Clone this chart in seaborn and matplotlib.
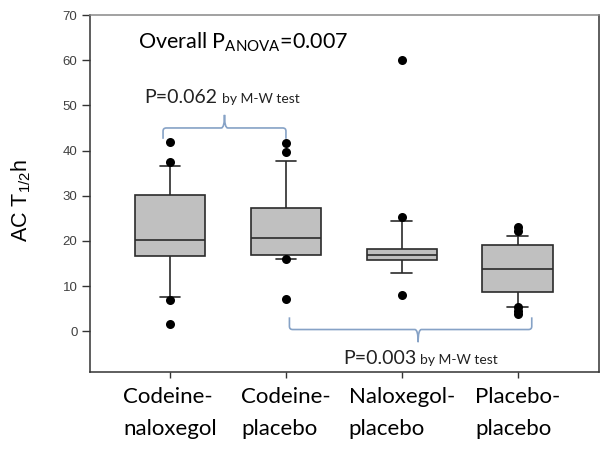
import numpy as np
import pandas as pd
import matplotlib
matplotlib.use("Agg")
import matplotlib.pyplot as plt
from matplotlib.path import Path
from matplotlib.patches import PathPatch
import seaborn as sns

# ---- data ----
categories = ["Codeine-\nnaloxegol", "Codeine-\nplacebo", "Naloxegol-\nplacebo", "Placebo-\nplacebo"]
whisker_low = [7.6, 15.9, 12.9, 5.4]
q1 = [16.6, 16.8, 15.7, 8.7]
median = [20.3, 20.6, 17.0, 13.7]
q3 = [30.2, 27.3, 18.3, 19.1]
whisker_high = [36.6, 37.7, 24.5, 21.2]
outliers = [
    [41.9, 37.4, 7.0, 1.7],
    [41.6, 39.6, 16.0, 7.2],
    [60.1, 25.2, 8.1],
    [23.0, 22.2, 5.3, 4.6, 3.8],
]
y_ticks = [0, 10, 20, 30, 40, 50, 60, 70]

# five-number table -> long form (with whis=(0,100) the quartiles are exact)
rows = []
for c, lo, a, m, b, hi in zip(categories, whisker_low, q1, median, q3, whisker_high):
    for v in (lo, a, m, b, hi):
        rows.append({"group": c, "value": v})
box_df = pd.DataFrame(rows)
out_df = pd.DataFrame([{"group": c, "value": v} for c, vals in zip(categories, outliers) for v in vals])

sns.set_theme(style="ticks")
plt.rcParams["font.family"] = ["Lato", "DejaVu Sans"]
plt.rcParams["mathtext.fontset"] = "custom"
plt.rcParams["mathtext.rm"] = "Lato"

fig = plt.figure(figsize=(6.04, 4.51), dpi=100)
ax = fig.add_axes([90 / 604, 1 - 372 / 451, (599 - 90) / 604, (372 - 15) / 451])

sns.boxplot(data=box_df, x="group", y="value", order=categories, whis=(0, 100),
            color="#c0c0c0", saturation=1, linecolor="#2b2b2b", linewidth=1.2,
            width=0.61, fliersize=0, capwidths=0.18, ax=ax)
sns.stripplot(data=out_df, x="group", y="value", order=categories, color="black",
              size=6.5, jitter=False, linewidth=0, ax=ax, zorder=5)

ax.set_xlim(-0.69, 3.70)
ax.set_ylim(-9, 70)
ax.set_yticks(y_ticks)
ax.set_yticklabels([str(t) for t in y_ticks], fontfamily="Liberation Sans", fontsize=9.5, color="#404040")
ax.tick_params(axis="y", length=6, width=1, color="#333333", pad=3)
ax.tick_params(axis="x", length=4, width=1, color="#333333", pad=7)
for lab in ax.get_xticklabels():
    lab.set_fontsize(16)
    lab.set_color("black")
    lab.set_linespacing(1.75)
    lab.set_multialignment("left")
    lab.set_fontfamily(["Lato", "DejaVu Sans"])
ax.set_xlabel("")
ax.set_ylabel(r"AC T$_{\mathregular{1/2}}$h", fontfamily="Liberation Sans", fontsize=15.5, color="black")
ax.yaxis.set_label_coords(-0.112, 0.48)
for s in ax.spines.values():
    s.set_visible(True)
    s.set_color("#333333")
    s.set_linewidth(1.1)
ax.spines["top"].set_color("#888888")

# ---- braces ----
brace_color = "#86a2c6"


def brace(x0, x1, y_end, y_h, xt, y_tip, rx=0.028, ry=0.7):
    sgn = np.sign(y_tip - y_h)
    verts = [
        (x0, y_end), (x0, y_h - sgn * ry), (x0, y_h), (x0 + rx, y_h),
        (xt - rx, y_h), (xt, y_h), (xt, y_tip),
        (xt, y_tip), (xt, y_h), (xt + rx, y_h),
        (x1 - rx, y_h), (x1, y_h), (x1, y_h - sgn * ry), (x1, y_end),
    ]
    codes = [
        Path.MOVETO, Path.LINETO, Path.CURVE3, Path.CURVE3,
        Path.LINETO, Path.CURVE3, Path.CURVE3,
        Path.MOVETO, Path.CURVE3, Path.CURVE3,
        Path.LINETO, Path.CURVE3, Path.CURVE3, Path.LINETO,
    ]
    ax.add_patch(PathPatch(Path(verts, codes), fill=False, edgecolor=brace_color, lw=1.2,
                           clip_on=False, zorder=6))


brace(-0.06, 1.0, 42.6, 45.0, 0.47, 47.9)
brace(1.03, 3.12, 3.1, 0.4, 2.14, -2.4)

# ---- text annotations ----
ax.text(-0.28, 64.0, r"Overall P$_{\mathregular{ANOVA}}$=0.007", fontsize=15.5, va="center", ha="left",
        color="black")
t1 = ax.text(-0.22, 51.7, "P=0.062", fontsize=14, va="center", ha="left", color="#222222")
ax.annotate("by M-W test", xy=(1, 0), xycoords=t1, xytext=(3, 1.0), textcoords="offset points",
            fontsize=10, va="bottom", ha="left", color="#222222")
t2 = ax.text(1.49, -6.0, "P=0.003", fontsize=14, va="center", ha="left", color="#222222")
ax.annotate("by M-W test", xy=(1, 0), xycoords=t2, xytext=(3, 1.0), textcoords="offset points",
            fontsize=10, va="bottom", ha="left", color="#222222")

fig.savefig("out.png", dpi=100)
